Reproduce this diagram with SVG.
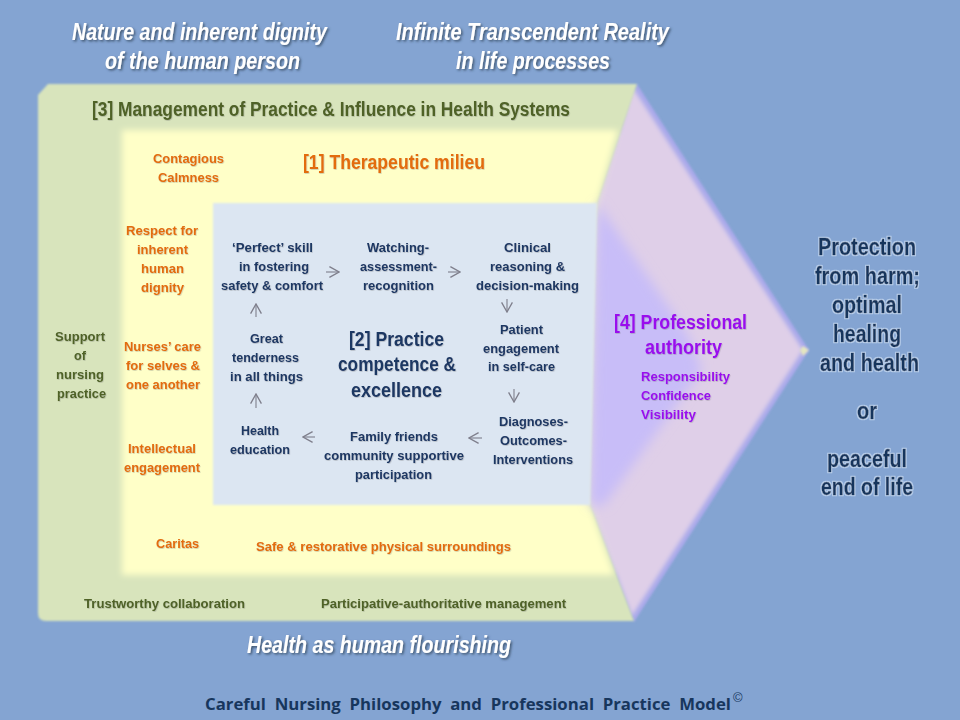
<svg xmlns="http://www.w3.org/2000/svg" width="960" height="720" viewBox="0 0 960 720">
<defs>
<filter id="b1" x="-5%" y="-5%" width="110%" height="110%"><feGaussianBlur stdDeviation="1.2"/></filter>
<filter id="b2" x="-10%" y="-10%" width="120%" height="120%"><feGaussianBlur stdDeviation="2"/></filter>
<filter id="b3" x="-5%" y="-5%" width="110%" height="110%"><feGaussianBlur stdDeviation="3"/></filter>
<filter id="b6" x="-20%" y="-20%" width="140%" height="140%"><feGaussianBlur stdDeviation="6"/></filter>
<filter id="sh" x="-5%" y="-20%" width="110%" height="150%"><feDropShadow dx="1.5" dy="1.5" stdDeviation="1" flood-color="#33445a" flood-opacity="0.8"/></filter>
<filter id="halo" x="-10%" y="-20%" width="120%" height="140%"><feMorphology in="SourceAlpha" operator="dilate" radius="1.2" result="d"/><feGaussianBlur in="d" stdDeviation="0.7" result="g"/><feFlood flood-color="#c6d9f1" flood-opacity="0.8"/><feComposite in2="g" operator="in" result="h"/><feMerge><feMergeNode in="h"/><feMergeNode in="SourceGraphic"/></feMerge></filter>
<filter id="soft" x="-5%" y="-10%" width="110%" height="125%"><feDropShadow dx="0.6" dy="0.8" stdDeviation="0.5" flood-color="#555" flood-opacity="0.3"/></filter>
<marker id="open" viewBox="0 0 10 10" refX="9" refY="5" markerWidth="12" markerHeight="12" markerUnits="userSpaceOnUse" orient="auto"><path d="M1 0.5 L9 5 L1 9.5" fill="none" stroke="#7f7f8c" stroke-width="1.1"/></marker>
</defs>
<style>
text{font-family:"Liberation Sans",Arial,sans-serif;font-weight:700}
.s{font-size:13.5px}
.g{fill:#4f6228}
.o{fill:#e36c0a}
.n{fill:#1f3864}
.p{fill:#9a0fee}
.h{font-size:20px}
.w{font-size:24px;font-style:italic;fill:#fff;filter:url(#sh)}
.r{font-size:24px;fill:#17365d;stroke:#17365d;stroke-width:0.35;filter:url(#halo)}
.c{stroke:#7f7f8c;stroke-width:1.1;fill:none;marker-end:url(#open)}
</style>
<rect width="960" height="720" fill="#84a4d2"/>
<g id="arrow-field">
<path d="M637 84 L809 350 L634 622 L590 505 L597 203 Z" fill="#a9a9ea" filter="url(#b1)"/>
<path d="M633 88 L803 350 L632 616 L590 505 L597 203 Z" fill="#dfcfe8" filter="url(#b2)"/>
<path d="M803 346 L809 350 L803 356 L800 350 Z" fill="#e4e6c0" filter="url(#b1)"/>
</g>
<g id="management">
<path d="M48 84 L637 84 L597 203 L590 505 L634 621 L46 621 Q38 621 38 613 L38 95 Z" fill="#d8e4bc" filter="url(#b1)"/>
</g>
<g id="milieu">
<path d="M122 130 L618 130 L597 203 L590 505 L614 575 L122 575 Z" fill="#ffffc8" filter="url(#b3)"/>
</g>
<g id="authority-field">
<path d="M597 203 L688 335 L702 370 L604 505 L590 505 Z" fill="#c8bdf8" filter="url(#b6)"/>
</g>
<g id="competence">
<path d="M213 203 L597 203 L590 505 L213 505 Z" fill="#dce6f2" filter="url(#b1)"/>
</g>

<g id="connectors">
<path class="c" d="M326 272H339"/>
<path class="c" d="M448 272H460"/>
<path class="c" d="M507 299V312"/>
<path class="c" d="M514 389V402"/>
<path class="c" d="M482 438H469"/>
<path class="c" d="M315 437H303"/>
<path class="c" d="M256 408V394"/>
<path class="c" d="M256 317V304"/>
</g>

<g id="header-nature"><text class="w" x="72" y="40" textLength="255" lengthAdjust="spacingAndGlyphs">Nature and inherent dignity</text><text class="w" x="105" y="69" textLength="195" lengthAdjust="spacingAndGlyphs">of the human person</text></g>
<g id="header-reality"><text class="w" x="396" y="40" textLength="273" lengthAdjust="spacingAndGlyphs">Infinite Transcendent Reality</text><text class="w" x="456" y="69" textLength="154" lengthAdjust="spacingAndGlyphs">in life processes</text></g>
<g id="footer-health"><text class="w" x="247" y="653" textLength="264" lengthAdjust="spacingAndGlyphs">Health as human flourishing</text></g>

<g id="label-3" filter="url(#soft)"><text class="h g" x="92" y="116" textLength="478" lengthAdjust="spacingAndGlyphs">[3] Management of Practice &amp; Influence in Health Systems</text></g>
<g id="support" filter="url(#soft)"><text class="s g" x="55" y="341" textLength="50" lengthAdjust="spacingAndGlyphs">Support</text><text class="s g" x="74" y="360" textLength="12" lengthAdjust="spacingAndGlyphs">of</text><text class="s g" x="56" y="379" textLength="48" lengthAdjust="spacingAndGlyphs">nursing</text><text class="s g" x="57" y="398" textLength="49" lengthAdjust="spacingAndGlyphs">practice</text></g>
<g id="trustworthy" filter="url(#soft)"><text class="s g" x="84" y="608" textLength="161" lengthAdjust="spacingAndGlyphs">Trustworthy collaboration</text></g>
<g id="participative" filter="url(#soft)"><text class="s g" x="321" y="608" textLength="245" lengthAdjust="spacingAndGlyphs">Participative-authoritative management</text></g>

<g id="label-1" filter="url(#soft)"><text class="h o" x="303" y="169" textLength="182" lengthAdjust="spacingAndGlyphs">[1] Therapeutic milieu</text></g>
<g id="calmness" filter="url(#soft)"><text class="s o" x="153" y="163" textLength="71" lengthAdjust="spacingAndGlyphs">Contagious</text><text class="s o" x="158" y="182" textLength="61" lengthAdjust="spacingAndGlyphs">Calmness</text></g>
<g id="respect" filter="url(#soft)"><text class="s o" x="126" y="235" textLength="72" lengthAdjust="spacingAndGlyphs">Respect for</text><text class="s o" x="137" y="254" textLength="51" lengthAdjust="spacingAndGlyphs">inherent</text><text class="s o" x="141" y="273" textLength="43" lengthAdjust="spacingAndGlyphs">human</text><text class="s o" x="141" y="292" textLength="43" lengthAdjust="spacingAndGlyphs">dignity</text></g>
<g id="nurses-care" filter="url(#soft)"><text class="s o" x="124" y="351" textLength="77" lengthAdjust="spacingAndGlyphs">Nurses’ care</text><text class="s o" x="126" y="370" textLength="74" lengthAdjust="spacingAndGlyphs">for selves &amp;</text><text class="s o" x="126" y="389" textLength="74" lengthAdjust="spacingAndGlyphs">one another</text></g>
<g id="intellectual" filter="url(#soft)"><text class="s o" x="128" y="453" textLength="68" lengthAdjust="spacingAndGlyphs">Intellectual</text><text class="s o" x="124" y="472" textLength="76" lengthAdjust="spacingAndGlyphs">engagement</text></g>
<g id="caritas" filter="url(#soft)"><text class="s o" x="156" y="548" textLength="43" lengthAdjust="spacingAndGlyphs">Caritas</text></g>
<g id="surroundings" filter="url(#soft)"><text class="s o" x="256" y="551" textLength="255" lengthAdjust="spacingAndGlyphs">Safe &amp; restorative physical surroundings</text></g>

<g id="skill" filter="url(#soft)"><text class="s n" x="232" y="252" textLength="81" lengthAdjust="spacingAndGlyphs">‘Perfect’ skill</text><text class="s n" x="239" y="271" textLength="70" lengthAdjust="spacingAndGlyphs">in fostering</text><text class="s n" x="221" y="290" textLength="102" lengthAdjust="spacingAndGlyphs">safety &amp; comfort</text></g>
<g id="watching" filter="url(#soft)"><text class="s n" x="367" y="252" textLength="62" lengthAdjust="spacingAndGlyphs">Watching-</text><text class="s n" x="360" y="271" textLength="77" lengthAdjust="spacingAndGlyphs">assessment-</text><text class="s n" x="363" y="290" textLength="71" lengthAdjust="spacingAndGlyphs">recognition</text></g>
<g id="clinical" filter="url(#soft)"><text class="s n" x="504" y="252" textLength="47" lengthAdjust="spacingAndGlyphs">Clinical</text><text class="s n" x="490" y="271" textLength="75" lengthAdjust="spacingAndGlyphs">reasoning &amp;</text><text class="s n" x="476" y="290" textLength="103" lengthAdjust="spacingAndGlyphs">decision-making</text></g>
<g id="patient" filter="url(#soft)"><text class="s n" x="500" y="334" textLength="43" lengthAdjust="spacingAndGlyphs">Patient</text><text class="s n" x="483" y="353" textLength="76" lengthAdjust="spacingAndGlyphs">engagement</text><text class="s n" x="488" y="371" textLength="67" lengthAdjust="spacingAndGlyphs">in self-care</text></g>
<g id="diagnoses" filter="url(#soft)"><text class="s n" x="499" y="426" textLength="69" lengthAdjust="spacingAndGlyphs">Diagnoses-</text><text class="s n" x="500" y="445" textLength="67" lengthAdjust="spacingAndGlyphs">Outcomes-</text><text class="s n" x="493" y="464" textLength="80" lengthAdjust="spacingAndGlyphs">Interventions</text></g>
<g id="family" filter="url(#soft)"><text class="s n" x="350" y="441" textLength="88" lengthAdjust="spacingAndGlyphs">Family friends</text><text class="s n" x="324" y="460" textLength="140" lengthAdjust="spacingAndGlyphs">community supportive</text><text class="s n" x="355" y="479" textLength="77" lengthAdjust="spacingAndGlyphs">participation</text></g>
<g id="education" filter="url(#soft)"><text class="s n" x="241" y="435" textLength="38" lengthAdjust="spacingAndGlyphs">Health</text><text class="s n" x="230" y="454" textLength="60" lengthAdjust="spacingAndGlyphs">education</text></g>
<g id="tenderness" filter="url(#soft)"><text class="s n" x="250" y="343" textLength="33" lengthAdjust="spacingAndGlyphs">Great</text><text class="s n" x="232" y="362" textLength="67" lengthAdjust="spacingAndGlyphs">tenderness</text><text class="s n" x="230" y="381" textLength="73" lengthAdjust="spacingAndGlyphs">in all things</text></g>
<g id="label-2" filter="url(#soft)"><text class="h n" x="349" y="346" textLength="95" lengthAdjust="spacingAndGlyphs">[2] Practice</text><text class="h n" x="338" y="371" textLength="118" lengthAdjust="spacingAndGlyphs">competence &amp;</text><text class="h n" x="351" y="397" textLength="91" lengthAdjust="spacingAndGlyphs">excellence</text></g>

<g id="label-4" filter="url(#soft)"><text class="h p" x="614" y="329" textLength="133" lengthAdjust="spacingAndGlyphs">[4] Professional</text><text class="h p" x="645" y="354" textLength="77" lengthAdjust="spacingAndGlyphs">authority</text></g>
<g id="authority-items" filter="url(#soft)"><text class="s p" x="641" y="381" textLength="89" lengthAdjust="spacingAndGlyphs">Responsibility</text><text class="s p" x="641" y="400" textLength="70" lengthAdjust="spacingAndGlyphs">Confidence</text><text class="s p" x="641" y="419" textLength="55" lengthAdjust="spacingAndGlyphs">Visibility</text></g>

<g id="outcome"><text class="r" x="818" y="255" textLength="98" lengthAdjust="spacingAndGlyphs">Protection</text><text class="r" x="815" y="284" textLength="105" lengthAdjust="spacingAndGlyphs">from harm;</text><text class="r" x="832" y="313" textLength="70" lengthAdjust="spacingAndGlyphs">optimal</text><text class="r" x="833" y="342" textLength="68" lengthAdjust="spacingAndGlyphs">healing</text><text class="r" x="820" y="371" textLength="99" lengthAdjust="spacingAndGlyphs">and health</text><text class="r" x="857" y="419" textLength="20" lengthAdjust="spacingAndGlyphs">or</text><text class="r" x="827" y="467" textLength="80" lengthAdjust="spacingAndGlyphs">peaceful</text><text class="r" x="821" y="495" textLength="92" lengthAdjust="spacingAndGlyphs">end of life</text></g>

<g id="title"><text xml:space="preserve" x="205" y="710" font-size="16.5" fill="#17365d" style="font-family:'Open Sans','Liberation Sans',sans-serif" textLength="526" lengthAdjust="spacingAndGlyphs">Careful  Nursing  Philosophy  and  Professional  Practice  Model</text><text x="733" y="702" font-size="13" fill="#17365d" style="font-weight:400">©</text></g>
</svg>
